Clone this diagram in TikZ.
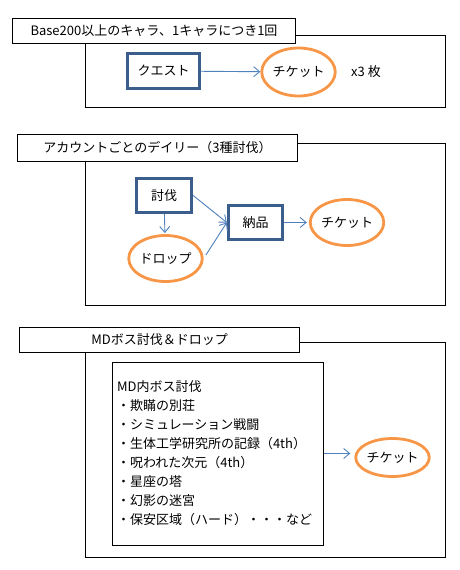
\documentclass[tikz,border=0pt]{standalone}
\usepackage{fontspec}
\setmainfont{Noto Sans CJK JP}
\usetikzlibrary{arrows.meta}
\usetikzlibrary{shapes.geometric}
\usetikzlibrary{positioning}
\definecolor{boxblue}{HTML}{3B5E8C}
\definecolor{ticketorange}{HTML}{F79646}
\definecolor{arrowblue}{HTML}{4F81BD}
\tikzset{group/.style={draw, line width=1pt},
  grouptitle/.style={draw, fill=white, line width=1pt, anchor=north west,
    inner sep=0pt},
  task/.style={draw=boxblue, line width=3.4pt, inner sep=0pt},
  ticket/.style={ellipse, draw=ticketorange, line width=2.8pt, inner sep=0pt},
  flow/.style={draw=arrowblue, line width=0.9pt,
    -{Straight Barb[length=6pt,width=10pt]}}}

\begin{document}
\begin{tikzpicture}[x=1pt, y=-1pt, font=\fontsize{13}{15}\selectfont]
  \useasboundingbox (0,0) rectangle (460,570);

  \draw[group] (85,35) rectangle (445,107);
  \node[grouptitle, minimum width=283pt, minimum height=25pt] (title1)
    at (12,18) {Base200以上のキャラ、1キャラにつき1回};
  \node[task, minimum width=72pt, minimum height=35pt] (quest)
    at (163.5,71) {クエスト};
  \node[ticket, minimum width=62pt, minimum height=48pt] (ticket1)
    at (298.5,72) {チケット};
  \node[right=11pt of ticket1] (count) {x3 枚};
  \draw[flow] (quest) -- (ticket1);

  \draw[group] (85,143) rectangle (445,305);
  \node[grouptitle, minimum width=280pt, minimum height=27pt] (title2)
    at (17,134) {アカウントごとのデイリー（3種討伐）};
  \node[task, minimum width=55pt, minimum height=34pt] (hunt)
    at (164,195.5) {討伐};
  \node[ticket, minimum width=64pt, minimum height=46pt] (drop)
    at (165.5,258.5) {ドロップ};
  \node[task, minimum width=54pt, minimum height=34pt] (deliver)
    at (255.5,222.5) {納品};
  \node[ticket, minimum width=63pt, minimum height=46pt] (ticket2)
    at (347,222.5) {チケット};
  \draw[flow, shorten >=1pt] (hunt) -- (drop);
  \draw[flow] (hunt.east) -- (deliver.west);
  \draw[flow, shorten <=4pt] (drop.east) -- (deliver.west);
  \draw[flow, shorten >=2pt] (deliver) -- (ticket2);

  \draw[group] (85,342) rectangle (445,557);
  \node[grouptitle, minimum width=280pt, minimum height=25pt] (title3)
    at (19,327) {MDボス討伐＆ドロップ};
  \node[draw, line width=1pt, minimum width=211pt, minimum height=183pt,
    text width=201pt, inner xsep=5pt, align=left,
    font=\fontsize{13}{19}\selectfont] (bosslist) at (217.5,453.5)
    {MD内ボス討伐\\
     ・欺瞞の別荘\\
     ・シミュレーション戦闘\\
     ・生体工学研究所の記録（4th）\\
     ・呪われた次元（4th）\\
     ・星座の塔\\
     ・幻影の迷宮\\
     ・保安区域（ハード）・・・など};
  \node[ticket, minimum width=62pt, minimum height=38pt] (ticket3)
    at (392.5,457.5) {チケット};
  \draw[flow, shorten >=4pt] (bosslist.east)
    -- (bosslist.east -| ticket3.west);
\end{tikzpicture}
\end{document}
